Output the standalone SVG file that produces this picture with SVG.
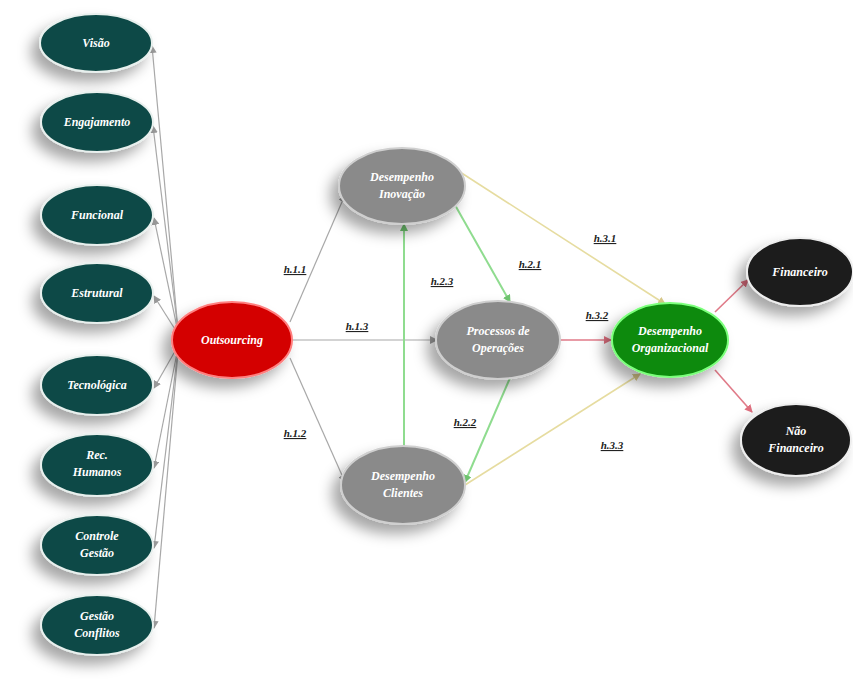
<svg xmlns="http://www.w3.org/2000/svg" width="853" height="680" viewBox="0 0 853 680">
<defs>
<filter id="sh" x="-40%" y="-40%" width="180%" height="180%">
<feDropShadow dx="-8" dy="9" stdDeviation="7" flood-color="#000" flood-opacity="0.35"/>
</filter>
<marker id="ag" markerWidth="8" markerHeight="8" refX="7" refY="4" orient="auto" markerUnits="userSpaceOnUse"><path d="M0,0 L8,4 L0,8 z" fill="#9a9a9a"/></marker>
<marker id="agr" markerWidth="8" markerHeight="8" refX="7" refY="4" orient="auto" markerUnits="userSpaceOnUse"><path d="M0,0 L8,4 L0,8 z" fill="#6fc46f"/></marker>
<marker id="ay" markerWidth="8" markerHeight="8" refX="7" refY="4" orient="auto" markerUnits="userSpaceOnUse"><path d="M0,0 L8,4 L0,8 z" fill="#d9c98a"/></marker>
<marker id="ar" markerWidth="8" markerHeight="8" refX="7" refY="4" orient="auto" markerUnits="userSpaceOnUse"><path d="M0,0 L8,4 L0,8 z" fill="#e07080"/></marker>
<style>
.n text{font-family:"Liberation Serif",serif;font-style:italic;font-weight:bold;font-size:12px;fill:#fff;text-anchor:middle}
.teal{fill:#0f4a46;stroke:#e8f0ee;stroke-width:2}
.red{fill:#d40000;stroke:#ff8080;stroke-width:2}
.gray{fill:#8a8a8a;stroke:#cfcfcf;stroke-width:2}
.grn{fill:#0a8a0a;stroke:#7cff7c;stroke-width:2}
.blk{fill:#1c1c1c;stroke:#eeeeee;stroke-width:2}
.lbl{font-family:"Liberation Serif",serif;font-style:italic;font-weight:bold;font-size:11px;fill:#222;text-anchor:middle;text-decoration:underline}
.lg{stroke:#a8a8a8;stroke-width:1.2;fill:none}
.lgr{stroke:#8fdc8f;stroke-width:2;fill:none}
.ly{stroke:#e6dca0;stroke-width:1.6;fill:none}
.lr{stroke:#e07a88;stroke-width:1.6;fill:none}
</style>
</defs>
<rect width="853" height="680" fill="#fff"/>
<g id="connectors">
<line class="lg" x1="178" y1="330" x2="152" y2="46" marker-end="url(#ag)"/>
<line class="lg" x1="178" y1="330" x2="153" y2="126" marker-end="url(#ag)"/>
<line class="lg" x1="178" y1="332" x2="154" y2="218" marker-end="url(#ag)"/>
<line class="lg" x1="178" y1="334" x2="154" y2="296" marker-end="url(#ag)"/>
<line class="lg" x1="178" y1="346" x2="154" y2="388" marker-end="url(#ag)"/>
<line class="lg" x1="178" y1="348" x2="154" y2="468" marker-end="url(#ag)"/>
<line class="lg" x1="178" y1="350" x2="154" y2="548" marker-end="url(#ag)"/>
<line class="lg" x1="178" y1="352" x2="154" y2="628" marker-end="url(#ag)"/>
<line class="lg" x1="290" y1="322" x2="345" y2="195" marker-end="url(#ag)"/>
<line class="lg" x1="292" y1="340" x2="437" y2="340" marker-end="url(#ag)"/>
<line class="lg" x1="290" y1="358" x2="345" y2="482" marker-end="url(#ag)"/>
<line class="lgr" x1="404" y1="446" x2="404" y2="224" marker-end="url(#agr)"/>
<line class="lgr" x1="455" y1="205" x2="510" y2="302" marker-end="url(#agr)"/>
<line class="lgr" x1="510" y1="378" x2="465" y2="482" marker-end="url(#agr)"/>
<line class="ly" x1="460" y1="172" x2="665" y2="304" marker-end="url(#ay)"/>
<line class="ly" x1="465" y1="485" x2="640" y2="374" marker-end="url(#ay)"/>
<line class="lr" x1="560" y1="340" x2="611" y2="340" marker-end="url(#ar)"/>
<line class="lr" x1="715" y1="312" x2="748" y2="280" marker-end="url(#ar)"/>
<line class="lr" x1="715" y1="370" x2="752" y2="412" marker-end="url(#ar)"/>
<text class="lbl" x="295" y="273">h.1.1</text>
<text class="lbl" x="357" y="330">h.1.3</text>
<text class="lbl" x="295" y="437">h.1.2</text>
<text class="lbl" x="442" y="285">h.2.3</text>
<text class="lbl" x="530" y="268">h.2.1</text>
<text class="lbl" x="465" y="426">h.2.2</text>
<text class="lbl" x="605" y="242">h.3.1</text>
<text class="lbl" x="597" y="319">h.3.2</text>
<text class="lbl" x="612" y="449">h.3.3</text>
</g>
<g id="visao" class="n"><ellipse class="teal" cx="96" cy="43" rx="56" ry="29" filter="url(#sh)"/><text x="96" y="47">Visão</text></g>
<g id="engajamento" class="n"><ellipse class="teal" cx="97" cy="122" rx="56" ry="30" filter="url(#sh)"/><text x="97" y="126">Engajamento</text></g>
<g id="funcional" class="n"><ellipse class="teal" cx="97" cy="215" rx="56" ry="30" filter="url(#sh)"/><text x="97" y="219">Funcional</text></g>
<g id="estrutural" class="n"><ellipse class="teal" cx="97" cy="293" rx="56" ry="30" filter="url(#sh)"/><text x="97" y="297">Estrutural</text></g>
<g id="tecnologica" class="n"><ellipse class="teal" cx="97" cy="385" rx="56" ry="30" filter="url(#sh)"/><text x="97" y="389">Tecnológica</text></g>
<g id="rechumanos" class="n"><ellipse class="teal" cx="97" cy="465" rx="56" ry="31" filter="url(#sh)"/><text x="97" y="459">Rec.</text><text x="97" y="476">Humanos</text></g>
<g id="controlegestao" class="n"><ellipse class="teal" cx="97" cy="545" rx="56" ry="30" filter="url(#sh)"/><text x="97" y="540">Controle</text><text x="97" y="557">Gestão</text></g>
<g id="gestaoconflitos" class="n"><ellipse class="teal" cx="97" cy="625" rx="56" ry="30" filter="url(#sh)"/><text x="97" y="620">Gestão</text><text x="97" y="637">Conflitos</text></g>
<g id="outsourcing" class="n"><ellipse class="red" cx="232" cy="340" rx="60" ry="38" filter="url(#sh)"/><text x="232" y="344">Outsourcing</text></g>
<g id="inovacao" class="n"><ellipse class="gray" cx="402" cy="186" rx="63" ry="38" filter="url(#sh)"/><text x="402" y="181">Desempenho</text><text x="402" y="198">Inovação</text></g>
<g id="operacoes" class="n"><ellipse class="gray" cx="498" cy="340" rx="62" ry="39" filter="url(#sh)"/><text x="498" y="335">Processos de</text><text x="498" y="352">Operações</text></g>
<g id="clientes" class="n"><ellipse class="gray" cx="403" cy="485" rx="62" ry="39" filter="url(#sh)"/><text x="403" y="480">Desempenho</text><text x="403" y="497">Clientes</text></g>
<g id="organizacional" class="n"><ellipse class="grn" cx="670" cy="340" rx="58" ry="37" filter="url(#sh)"/><text x="670" y="335">Desempenho</text><text x="670" y="352">Organizacional</text></g>
<g id="financeiro" class="n"><ellipse class="blk" cx="800" cy="272" rx="53" ry="34" filter="url(#sh)"/><text x="800" y="276">Financeiro</text></g>
<g id="naofinanceiro" class="n"><ellipse class="blk" cx="796" cy="440" rx="55" ry="36" filter="url(#sh)"/><text x="796" y="435">Não</text><text x="796" y="452">Financeiro</text></g>
</svg>
